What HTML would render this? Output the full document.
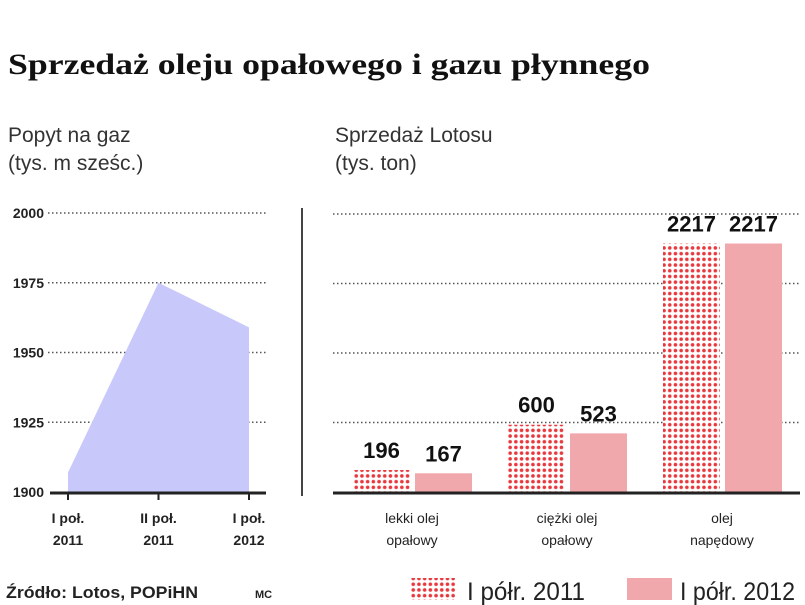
<!DOCTYPE html>
<html><head><meta charset="utf-8"><style>
body{margin:0;background:#fff;}
svg{display:block;font-family:"Liberation Sans",sans-serif;}
</style></head><body>
<svg id="c" width="805" height="605" viewBox="0 0 805 605">
<defs>
<pattern id="dots" width="5.7" height="5.7" patternUnits="userSpaceOnUse">
<rect width="5.7" height="5.7" fill="#fff"/>
<circle cx="2.85" cy="2.85" r="1.8" fill="#e8383d"/>
</pattern>
</defs>
<text x="8" y="74" font-family="Liberation Serif,serif" font-weight="bold" font-size="30" fill="#111" textLength="642" lengthAdjust="spacingAndGlyphs">Sprzedaż oleju opałowego i gazu płynnego</text>
<text x="8" y="142" font-size="21" fill="#333">Popyt na gaz</text>
<text x="8" y="170" font-size="21" fill="#333">(tys. m sześc.)</text>
<text x="335" y="142" font-size="21" fill="#333">Sprzedaż Lotosu</text>
<text x="335" y="170" font-size="21" fill="#333">(tys. ton)</text>
<line x1="302" y1="208" x2="302" y2="496" stroke="#444" stroke-width="2"/>
<g id="left"></g>
<g id="right"></g>
<text x="6" y="598" font-size="17" font-weight="bold" fill="#222" textLength="192" lengthAdjust="spacingAndGlyphs">Źródło: Lotos, POPiHN</text>
<text x="255" y="598" font-size="11" font-weight="bold" fill="#222">MC</text>
<rect x="410" y="578" width="45" height="22" fill="url(#dots)"/>
<text x="467" y="600" font-size="25" fill="#222" textLength="118" lengthAdjust="spacingAndGlyphs">I półr. 2011</text>
<rect x="627" y="578" width="45" height="22" fill="#f0a8ad"/>
<text x="680" y="600" font-size="25" fill="#222" textLength="115" lengthAdjust="spacingAndGlyphs">I półr. 2012</text>
</svg>
<script>
const gasCats=["I poł.|2011","II poł.|2011","I poł.|2012"];
const gasVals=[1907,1975,1959];
const gasTicks=[1900,1925,1950,1975,2000];
const oilCats=["lekki olej|opałowy","ciężki olej|opałowy","olej|napędowy"];
const oil2011=[196,600,2217];
const oil2012=[167,523,2217];
const oilGrid=[620,1240,1860,2480];
const NS="http://www.w3.org/2000/svg";
function mk(p,t,a){const e=document.createElementNS(NS,t);for(const k in a)e.setAttribute(k,a[k]);p.appendChild(e);return e;}
const L=document.getElementById('left');
const ly=v=>492-(v-1900)*(492-213)/100;
const lx=i=>68+i*90.5;
gasTicks.forEach(t=>{
 if(t>1900){const g=mk(L,'line',{x1:48,x2:266,y1:ly(t),y2:ly(t),stroke:'#555','stroke-width':1.5,'stroke-dasharray':'1.5 2.5'});
 
 }
 const tx=mk(L,'text',{x:44,y:ly(t)+5,'text-anchor':'end','font-size':14,'font-weight':'bold',fill:'#222'});
 tx.textContent=t;
 
 
});
let d='M'+lx(0)+','+ly(1900);
gasVals.forEach((v,i)=>{d+=' L'+lx(i)+','+ly(v);});
d+=' L'+lx(gasVals.length-1)+','+ly(1900)+'Z';
const area=mk(L,'path',{d:d,fill:'#c8c8fb'});


const ax=mk(L,'line',{x1:50,x2:266,y1:493,y2:493,stroke:'#222','stroke-width':3});


gasCats.forEach((c,i)=>{
 const tk=mk(L,'line',{x1:lx(i),x2:lx(i),y1:493,y2:500,stroke:'#222','stroke-width':2});
 
 
 c.split('|').forEach((s,j)=>{
  const t=mk(L,'text',{x:lx(i),y:523+j*22,'text-anchor':'middle','font-size':14,'font-weight':'bold',fill:'#222'});
  t.textContent=s;
  
  
 });
});
const R=document.getElementById('right');
const ry=v=>492-v*(492-214)/2480;
const gx=i=>353+i*155;
oilGrid.forEach(t=>{
 const g=mk(R,'line',{x1:333,x2:800,y1:ry(t),y2:ry(t),stroke:'#555','stroke-width':1.5,'stroke-dasharray':'1.5 2.5'});
 
 
});
oilCats.forEach((c,i)=>{
 const x0=gx(i),bw=57,x1=x0+62;
 const b1=mk(R,'rect',{x:x0,y:ry(oil2011[i]),width:bw,height:492-ry(oil2011[i]),fill:'url(#dots)'});
 
 
 const b2=mk(R,'rect',{x:x1,y:ry(oil2012[i]),width:bw,height:492-ry(oil2012[i]),fill:'#f0a8ad'});
 
 
 const v1=mk(R,'text',{x:x0+bw/2,y:ry(oil2011[i])-12,'text-anchor':'middle','font-size':22,'font-weight':'bold',fill:'#111'});
 v1.textContent=oil2011[i];
 
 
 const v2=mk(R,'text',{x:x1+bw/2,y:ry(oil2012[i])-12,'text-anchor':'middle','font-size':22,'font-weight':'bold',fill:'#111'});
 v2.textContent=oil2012[i];
 
 
 c.split('|').forEach((s,j)=>{
  const t=mk(R,'text',{x:x0+59,y:523+j*22,'text-anchor':'middle','font-size':14,fill:'#222'});
  t.textContent=s;
  
  
 });
});
const rax=mk(R,'line',{x1:333,x2:800,y1:493,y2:493,stroke:'#222','stroke-width':3});


</script>
</body></html>
